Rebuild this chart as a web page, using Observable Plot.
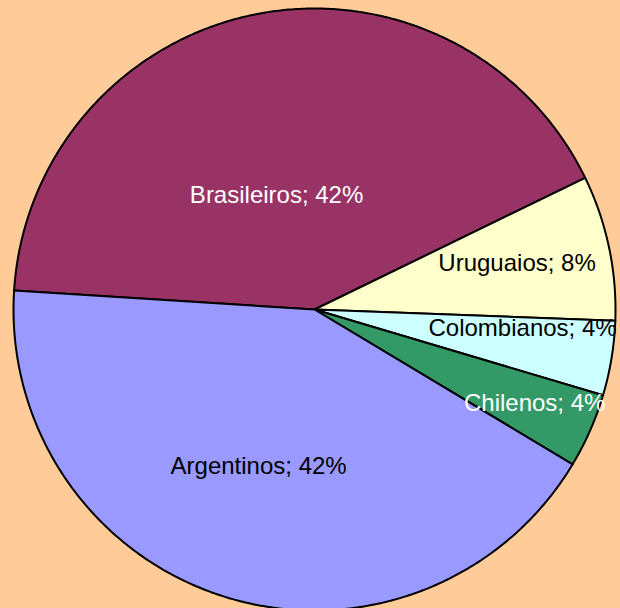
<!DOCTYPE html>
<html><head><meta charset="utf-8">
<script src="https://cdn.jsdelivr.net/npm/d3@7"></script>
<script src="https://cdn.jsdelivr.net/npm/@observablehq/plot@0.6"></script>
<style>html,body{margin:0;padding:0;background:#FFCC99;} #chart svg{display:block}</style>
</head><body><div id="chart"></div>
<script>
// data
const categories = ["Brasileiros", "Uruguaios", "Colombianos", "Chilenos", "Argentinos"];
const values = [41.8, 7.8, 4.0, 4.0, 42.4];
const colors = ["#993366", "#FFFFCC", "#CCFFFF", "#339966", "#9999FF"];
const textColors = ["white", "black", "black", "white", "black"];
const labels = categories.map((c, i) => `${c}; ${Math.round(values[i])}%`);

// layout
const startDeg = -86.4;
const labelRadius = [0.40, 0.69, 0.694, 0.795, 0.554];
const labelNudgeDeg = [-7.2, -0.9, -4.2, -0.7, 2.3];
const rad = Math.PI / 180;

const arcs = d3.pie().sort(null)
  .startAngle(startDeg * rad).endAngle(startDeg * rad + 2 * Math.PI)(values);

const pts = [];
arcs.forEach((a, i) => {
  const n = Math.max(2, Math.ceil((a.endAngle - a.startAngle) / (2 * Math.PI) * 720));
  pts.push({k: categories[i], x: 0, y: 0});
  for (let j = 0; j <= n; j++) {
    const t = a.startAngle + (a.endAngle - a.startAngle) * j / n;
    pts.push({k: categories[i], x: Math.sin(t), y: Math.cos(t)});
  }
  pts.push({k: categories[i], x: 0, y: 0});
});

const labelData = arcs.map((a, i) => {
  const t = (a.startAngle + a.endAngle) / 2 + labelNudgeDeg[i] * rad;
  return {text: labels[i], x: labelRadius[i] * Math.sin(t), y: labelRadius[i] * Math.cos(t), tc: textColors[i]};
});

const font = "Liberation Sans, Arial, Helvetica, sans-serif";
const chart = Plot.plot({
  width: 620,
  height: 608,
  margin: 0,
  x: {domain: [-314 / 301, 306 / 301], axis: null},
  y: {domain: [-299 / 301, 309 / 301], axis: null},
  color: {domain: categories, range: colors},
  style: {background: "#FFCC99", fontFamily: font},
  marks: [
    Plot.line(pts, {x: "x", y: "y", z: "k", fill: "k", stroke: "black", strokeWidth: 2, strokeLinejoin: "round", clip: true}),
    Plot.text(labelData.filter(d => d.tc === "white"), {x: "x", y: "y", text: "text", fill: "white", fontSize: 24, fontFamily: font}),
    Plot.text(labelData.filter(d => d.tc === "black"), {x: "x", y: "y", text: "text", fill: "black", fontSize: 24, fontFamily: font})
  ]
});
document.getElementById("chart").appendChild(chart);
</script>
</body></html>
